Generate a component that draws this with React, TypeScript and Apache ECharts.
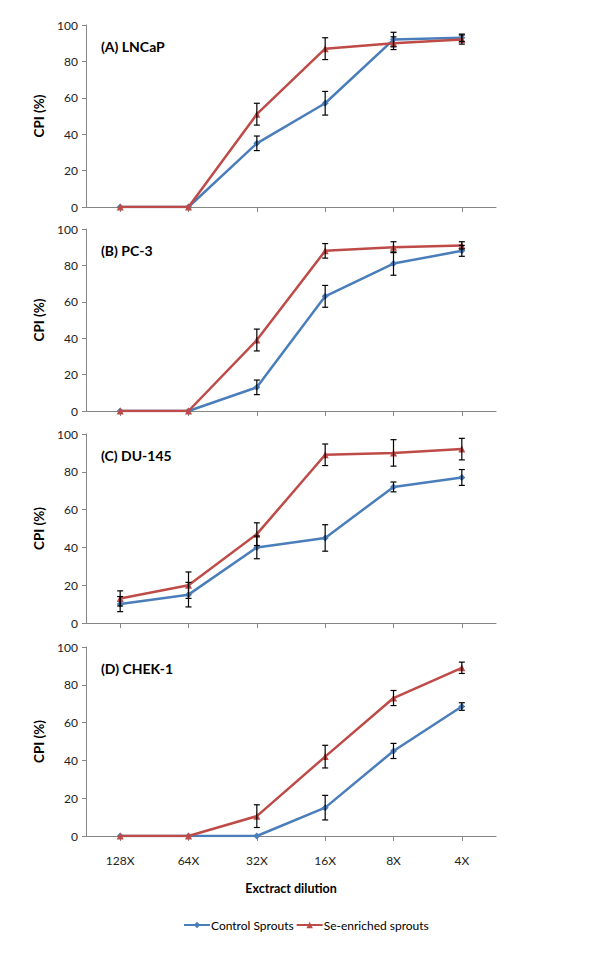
import React, { useEffect, useRef } from "react";
import * as echarts from "echarts";

const categories = ["128X", "64X", "32X", "16X", "8X", "4X"];
const yTicks = [0, 20, 40, 60, 80, 100];

const panelTitles = ["(A) LNCaP", "(B) PC-3", "(C) DU-145", "(D) CHEK-1"];

const aControl = [0, 0, 35, 57, 92, 93];
const aControlErr = [0, 0, 4, 6.5, 4, 2];
const aSe = [0, 0, 51, 87, 90, 92];
const aSeErr = [0, 0, 6, 6, 3.5, 2.5];

const bControl = [0, 0, 13, 63, 81, 88];
const bControlErr = [0, 0, 4, 6, 6.4, 3];
const bSe = [0, 0, 39, 88, 90, 91];
const bSeErr = [0, 0, 6, 4, 3, 2];

const cControl = [10, 15, 40, 45, 72, 77];
const cControlErr = [4, 6.5, 6, 7, 2.6, 4.2];
const cSe = [13, 20, 47, 89, 90, 92];
const cSeErr = [4, 7, 6, 5.7, 7, 5.7];

const dControl = [0, 0, 0, 15, 45, 68.5];
const dControlErr = [0, 0, 0, 6.5, 4, 2];
const dSe = [0, 0, 10.5, 42, 73, 89];
const dSeErr = [0, 0, 6, 6, 4, 3];

const controlName = "Control Sprouts";
const seName = "Se-enriched sprouts";

const panels = [
  { control: aControl, controlErr: aControlErr, se: aSe, seErr: aSeErr },
  { control: bControl, controlErr: bControlErr, se: bSe, seErr: bSeErr },
  { control: cControl, controlErr: cControlErr, se: cSe, seErr: cSeErr },
  { control: dControl, controlErr: dControlErr, se: dSe, seErr: dSeErr },
];

const BLUE = "#4A7EBB";
const RED = "#BE4B48";
const FONT = "Lato, 'Open Sans', sans-serif";

const gridLayout = [
  { top: 25, height: 182 },
  { top: 229, height: 182 },
  { top: 434, height: 189 },
  { top: 647, height: 189 },
];

function errorRender(params: any, api: any) {
  const x = api.value(0);
  const y = api.value(1);
  const e = api.value(2);
  if (!e) return null;
  const top = api.coord([x, y + e]);
  const bot = api.coord([x, y - e]);
  const cw = 3;
  const style = { stroke: "#000", lineWidth: 1.2 };
  return {
    type: "group",
    children: [
      { type: "line", shape: { x1: top[0], y1: top[1], x2: bot[0], y2: bot[1] }, style },
      { type: "line", shape: { x1: top[0] - cw, y1: top[1], x2: top[0] + cw, y2: top[1] }, style },
      { type: "line", shape: { x1: bot[0] - cw, y1: bot[1], x2: bot[0] + cw, y2: bot[1] }, style },
    ],
  };
}

export default function App() {
  const ref = useRef<HTMLDivElement>(null);
  useEffect(() => {
    document.body.style.margin = "0";
    if (!ref.current) return;
    const chart = echarts.init(ref.current, null, { renderer: "svg" });

    const grids: any[] = [];
    const xAxes: any[] = [];
    const yAxes: any[] = [];
    const series: any[] = [];
    const titles: any[] = [];

    panels.forEach((p, i) => {
      const g = gridLayout[i];
      const last = i === panels.length - 1;
      grids.push({ left: 86, width: 410, top: g.top, height: g.height, containLabel: false });
      xAxes.push({
        type: "category",
        gridIndex: i,
        data: categories,
        boundaryGap: true,
        axisLine: { lineStyle: { color: "#868686", width: 1 } },
        axisTick: { show: true, alignWithLabel: true, length: 5, lineStyle: { color: "#868686" } },
        axisLabel: {
          show: last,
          color: "#222",
          fontSize: 12,
          fontFamily: FONT,
          margin: 18,
        },
        name: last ? "Exctract dilution" : "",
        nameLocation: "middle",
        nameGap: 46,
        nameTextStyle: { fontWeight: "bold", fontSize: 12.5, color: "#000", fontFamily: FONT },
      });
      yAxes.push({
        type: "value",
        gridIndex: i,
        min: 0,
        max: 100,
        interval: 20,
        axisLine: { show: true, lineStyle: { color: "#868686", width: 1 } },
        axisTick: { show: true, length: 4, lineStyle: { color: "#868686" } },
        splitLine: { show: false },
        axisLabel: {
          color: "#222",
          fontSize: 12,
          fontFamily: FONT,
          margin: 8,
          formatter: (v: number) => (yTicks.includes(v) ? String(v) : ""),
        },
        name: "CPI (%)",
        nameLocation: "middle",
        nameGap: 39,
        nameTextStyle: { fontWeight: "bold", fontSize: 13.5, color: "#000", fontFamily: FONT },
      });
      titles.push({
        text: panelTitles[i],
        left: 96,
        top: g.top + 9,
        textStyle: { fontWeight: "bold", fontSize: 14, color: "#000", fontFamily: FONT },
      });
      series.push({
        name: controlName,
        type: "line",
        xAxisIndex: i,
        yAxisIndex: i,
        data: p.control,
        symbol: "diamond",
        symbolSize: 7,
        lineStyle: { color: BLUE, width: 2.5 },
        itemStyle: { color: BLUE },
        z: 2,
      });
      series.push({
        name: seName,
        type: "line",
        xAxisIndex: i,
        yAxisIndex: i,
        data: p.se,
        symbol: "triangle",
        symbolSize: 7,
        lineStyle: { color: RED, width: 2.5 },
        itemStyle: { color: RED },
        z: 3,
      });
      series.push({
        type: "custom",
        xAxisIndex: i,
        yAxisIndex: i,
        renderItem: errorRender,
        encode: { x: 0, y: 1 },
        data: p.control.map((v, k) => [k, v, p.controlErr[k]]),
        z: 4,
        silent: true,
      });
      series.push({
        type: "custom",
        xAxisIndex: i,
        yAxisIndex: i,
        renderItem: errorRender,
        encode: { x: 0, y: 1 },
        data: p.se.map((v, k) => [k, v, p.seErr[k]]),
        z: 4,
        silent: true,
      });
    });

    chart.setOption({
      animation: false,
      backgroundColor: "#fff",
      title: titles,
      grid: grids,
      xAxis: xAxes,
      yAxis: yAxes,
      legend: {
        data: [controlName, seName],
        left: 178,
        top: 914,
        itemWidth: 26,
        itemHeight: 8,
        itemGap: 2,
        textStyle: { fontSize: 12, color: "#000", fontFamily: FONT, padding: [0, 0, 0, -4] },
      },
      series,
    });
    return () => chart.dispose();
  }, []);
  return <div ref={ref} style={{ width: 600, height: 954 }} />;
}
